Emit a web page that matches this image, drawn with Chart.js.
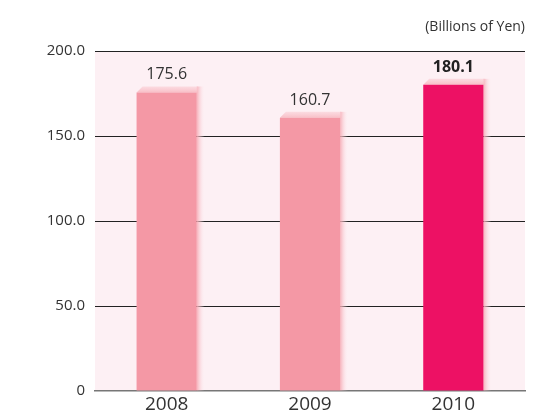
<!DOCTYPE html>
<html>
<head>
<meta charset="utf-8">
<script src="https://cdn.jsdelivr.net/npm/chart.js@4"></script>
<style>
  html, body { margin: 0; padding: 0; background: #fff; }
  #wrap { width: 538px; height: 415px; position: relative; }
</style>
</head>
<body>
<div id="wrap"><canvas id="c"></canvas></div>
<script>
var years = ["2008", "2009", "2010"];
var sales = [175.6, 160.7, 180.1];
var barColors = ["#f498a5", "#f498a5", "#ed1164"];
var yTicks = [0, 50, 100, 150, 200];
var unitLabel = "(Billions of Yen)";
var FONT = "'Open Sans', sans-serif";

// light pink plot background
var plotBg = {
  id: "plotBg",
  beforeDraw: function (chart) {
    var a = chart.chartArea, ctx = chart.ctx;
    ctx.save();
    ctx.fillStyle = "#fdf0f4";
    ctx.fillRect(a.left, a.top, a.right - a.left, a.bottom - a.top);
    ctx.restore();
  }
};

// soft 3D edge behind each bar (top strip + right fade)
var barShade = {
  id: "barShade",
  beforeDatasetsDraw: function (chart) {
    var ctx = chart.ctx;
    var meta = chart.getDatasetMeta(0);
    var d = 6;
    ctx.save();
    meta.data.forEach(function (bar) {
      var l = bar.x - bar.width / 2, r = bar.x + bar.width / 2;
      var t = bar.y, b = bar.base;
      var g = ctx.createLinearGradient(r, 0, r + d + 2, 0);
      g.addColorStop(0, "rgba(246,170,180,0.9)");
      g.addColorStop(1, "rgba(253,240,244,0)");
      ctx.fillStyle = g;
      ctx.fillRect(r, t - d, d + 2, b - t + d);
      var g2 = ctx.createLinearGradient(0, t - d, 0, t);
      g2.addColorStop(0, "rgba(250,205,212,0.6)");
      g2.addColorStop(1, "rgba(248,190,198,1)");
      ctx.fillStyle = g2;
      ctx.beginPath();
      ctx.moveTo(l, t);
      ctx.lineTo(l + d, t - d);
      ctx.lineTo(r + 1, t - d);
      ctx.lineTo(r + 1, t);
      ctx.closePath();
      ctx.fill();
    });
    ctx.restore();
  }
};

// value labels above bars and unit caption
var valueLabels = {
  id: "valueLabels",
  afterDatasetsDraw: function (chart) {
    var ctx = chart.ctx;
    var meta = chart.getDatasetMeta(0);
    ctx.save();
    ctx.textAlign = "center";
    ctx.textBaseline = "alphabetic";
    meta.data.forEach(function (bar, i) {
      var last = i === sales.length - 1;
      ctx.font = (last ? "bold " : "") + "16px " + FONT;
      ctx.fillStyle = last ? "#222" : "#333";
      ctx.fillText(sales[i].toFixed(1), bar.x, bar.y - 13);
    });
    ctx.font = "14px " + FONT;
    ctx.fillStyle = "#333";
    ctx.textAlign = "right";
    ctx.fillText(unitLabel, chart.chartArea.right, 31);
    ctx.restore();
  }
};

new Chart(document.getElementById("c"), {
  type: "bar",
  data: {
    labels: years,
    datasets: [{
      data: sales,
      backgroundColor: barColors,
      borderWidth: 0,
      barPercentage: 0.42,
      categoryPercentage: 1.0
    }]
  },
  options: {
    responsive: true,
    maintainAspectRatio: false,
    animation: false,
    layout: { padding: { top: 51, right: 13, left: 0, bottom: 0 } },
    plugins: { legend: { display: false }, tooltip: { enabled: false } },
    scales: {
      x: {
        afterFit: function (s) { s.height = 24; },
        grid: { display: false, drawTicks: false },
        border: { display: true, color: "#777", width: 1.5 },
        ticks: { color: "#333", font: { family: FONT, size: 19, lineHeight: 1.0 }, padding: 4 }
      },
      y: {
        min: 0,
        max: 200,
        afterBuildTicks: function (s) {
          s.ticks = yTicks.map(function (v) { return { value: v }; });
        },
        afterFit: function (s) { s.width = 95; },
        grid: {
          drawTicks: false,
          color: function (c) { return c.tick && c.tick.value === 0 ? "rgba(0,0,0,0)" : "#222"; },
          lineWidth: 1
        },
        border: { display: false },
        ticks: {
          color: "#333",
          padding: 10,
          font: { family: FONT, size: 15 },
          callback: function (v) { return v === 0 ? "0" : v.toFixed(1); }
        }
      }
    }
  },
  plugins: [plotBg, barShade, valueLabels]
});
</script>
</body>
</html>
